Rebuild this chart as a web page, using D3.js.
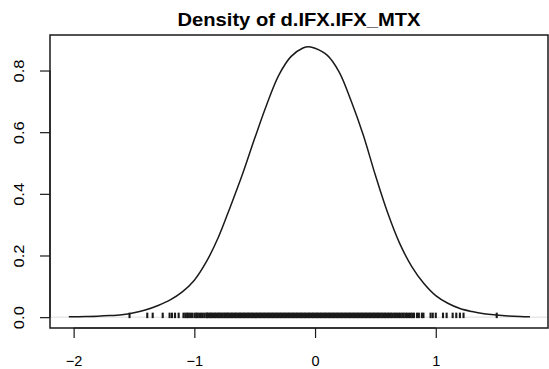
<!DOCTYPE html>
<html><head><meta charset="utf-8">
<script src="https://cdn.jsdelivr.net/npm/d3@7"></script>
<style>body{margin:0;background:#fff}svg{display:block}</style>
</head><body>
<svg id="c" width="549" height="369"></svg>
<script>
const title = "Density of d.IFX.IFX_MTX";
const densX = [-2.04,-1.9,-1.8,-1.7,-1.6,-1.54,-1.5,-1.4,-1.3,-1.2,-1.1,-1.0,-0.9,-0.8,-0.7,-0.6,-0.5,-0.4,-0.3,-0.2,-0.1,-0.05,0.0,0.1,0.2,0.3,0.4,0.5,0.6,0.7,0.8,0.9,1.0,1.1,1.2,1.3,1.4,1.5,1.6,1.7,1.78];
const densY = [0.001,0.002,0.003,0.005,0.008,0.011,0.014,0.024,0.038,0.056,0.082,0.12,0.18,0.26,0.36,0.465,0.58,0.69,0.785,0.845,0.873,0.877,0.872,0.85,0.795,0.70,0.59,0.46,0.34,0.24,0.165,0.11,0.07,0.045,0.028,0.018,0.011,0.007,0.004,0.002,0.001];
const rugVals = [-1.537,-1.39,-1.345,-1.262,-1.205,-1.185,-1.16,-1.13,-1.09,-1.075,-1.06,-1.05,-1.035,-1.02,-1.0,-0.985,-0.975,-0.96,-0.945,-0.93,-0.915,-0.9,
-0.893,-0.884,-0.871,-0.862,-0.850,-0.841,-0.829,-0.818,-0.806,-0.797,-0.785,-0.776,-0.764,-0.752,-0.743,-0.731,-0.722,-0.710,-0.699,-0.688,-0.677,-0.665,-0.656,-0.644,-0.633,-0.622,-0.611,-0.600,-0.589,-0.578,-0.567,-0.556,-0.545,-0.534,-0.523,-0.512,-0.501,-0.490,-0.479,-0.468,-0.457,-0.446,-0.435,-0.424,-0.413,-0.402,-0.391,-0.380,-0.369,-0.358,-0.347,-0.336,-0.325,-0.314,-0.303,-0.292,-0.281,-0.270,-0.259,-0.248,-0.237,-0.226,-0.215,-0.204,-0.193,-0.182,-0.171,-0.160,-0.149,-0.138,-0.127,-0.116,-0.105,-0.094,-0.083,-0.072,-0.061,-0.050,-0.039,-0.028,-0.017,-0.006,0.005,0.016,0.027,0.038,0.049,0.060,0.071,0.082,0.093,0.104,0.115,0.126,0.137,0.148,0.159,0.170,0.181,0.192,0.203,0.214,0.225,0.236,0.247,0.258,0.269,0.280,0.291,0.302,0.313,0.324,0.335,0.346,0.357,0.368,0.379,0.390,0.401,0.412,0.423,0.434,0.445,0.456,0.467,0.478,0.489,0.500,0.511,0.522,0.533,0.544,0.556,0.567,0.579,0.590,
0.604,0.615,0.628,0.640,0.655,0.668,0.680,0.695,0.708,0.722,0.735,0.750,0.762,0.778,0.792,0.805,0.820,0.845,0.86,0.885,0.898,0.957,0.975,1.0,1.06,1.09,1.14,1.17,1.2,1.23,1.505];
const xTicks = [-2,-1,0,1];
const yTicks = [0.0,0.2,0.4,0.6,0.8];

const box = {l:50, r:548, t:35, b:328};
const svg = d3.select("#c");
const xr = [-2.043, 1.777], yr = [0, 0.88];
const xpad = (xr[1]-xr[0])*0.04, ypad = (yr[1]-yr[0])*0.04;
const x = d3.scaleLinear().domain([xr[0]-xpad, xr[1]+xpad]).range([box.l, box.r]);
const y = d3.scaleLinear().domain([yr[0]-ypad, yr[1]+ypad]).range([box.b, box.t]);
const ink = "#1a1a1a";
const font = "Liberation Sans, Arial, Helvetica, sans-serif";

// zero line
svg.append("line").attr("x1", box.l).attr("x2", box.r).attr("y1", y(0)).attr("y2", y(0))
  .attr("stroke", "#ddd").attr("stroke-width", 1);

// rug
svg.append("g").selectAll("line").data(rugVals).join("line")
  .attr("x1", d => x(d)).attr("x2", d => x(d))
  .attr("y1", y(0) - 4.5).attr("y2", y(0) + 1)
  .attr("stroke", ink).attr("stroke-width", 2.1);

// density
const line = d3.line().x((d,i) => x(densX[i])).y(d => y(d)).curve(d3.curveCatmullRom.alpha(0.5));
svg.append("path").datum(densY).attr("d", line).attr("fill", "none")
  .attr("stroke", ink).attr("stroke-width", 1.5);

// box
svg.append("rect").attr("x", box.l).attr("y", box.t).attr("width", box.r-box.l).attr("height", box.b-box.t)
  .attr("fill", "none").attr("stroke", ink).attr("stroke-width", 1.5);

// x axis
const xa = svg.append("g").attr("transform", `translate(0,${box.b})`)
  .call(d3.axisBottom(x).tickValues(xTicks).tickSize(10).tickFormat(d => d3.format("")(d).replace("-", "\u2212")));
xa.select(".domain").attr("d", `M${x(-2)},0H${x(1)}`).attr("stroke", ink).attr("stroke-width", 1.2);
xa.selectAll(".tick line").attr("stroke", ink).attr("stroke-width", 1.2);
xa.selectAll(".tick text").attr("font-family", font).attr("font-size", 14.5)
  .attr("fill", "#000").attr("y", 38).attr("dy", 0);

// y axis
const ya = svg.append("g").attr("transform", `translate(${box.l},0)`)
  .call(d3.axisLeft(y).tickValues(yTicks).tickSize(10).tickFormat(d3.format(".1f")));
ya.select(".domain").attr("d", `M0,${y(0)}V${y(0.8)}`).attr("stroke", ink).attr("stroke-width", 1.2);
ya.selectAll(".tick line").attr("stroke", ink).attr("stroke-width", 1.2);
ya.selectAll(".tick text").attr("font-family", font).attr("font-size", 14)
  .attr("fill", "#000").attr("x", 0).attr("dy", 0).attr("text-anchor", "middle")
  .attr("textLength", 23).attr("lengthAdjust", "spacingAndGlyphs")
  .attr("transform", "translate(-26,0) rotate(-90)");

// title
svg.append("text").attr("x", (box.l+box.r)/2).attr("y", 26).attr("text-anchor", "middle")
  .attr("font-family", font).attr("font-weight", "bold").attr("font-size", 18.5)
  .attr("textLength", 243).attr("lengthAdjust", "spacingAndGlyphs")
  .attr("fill", "#000").text(title);
</script>
</body></html>
